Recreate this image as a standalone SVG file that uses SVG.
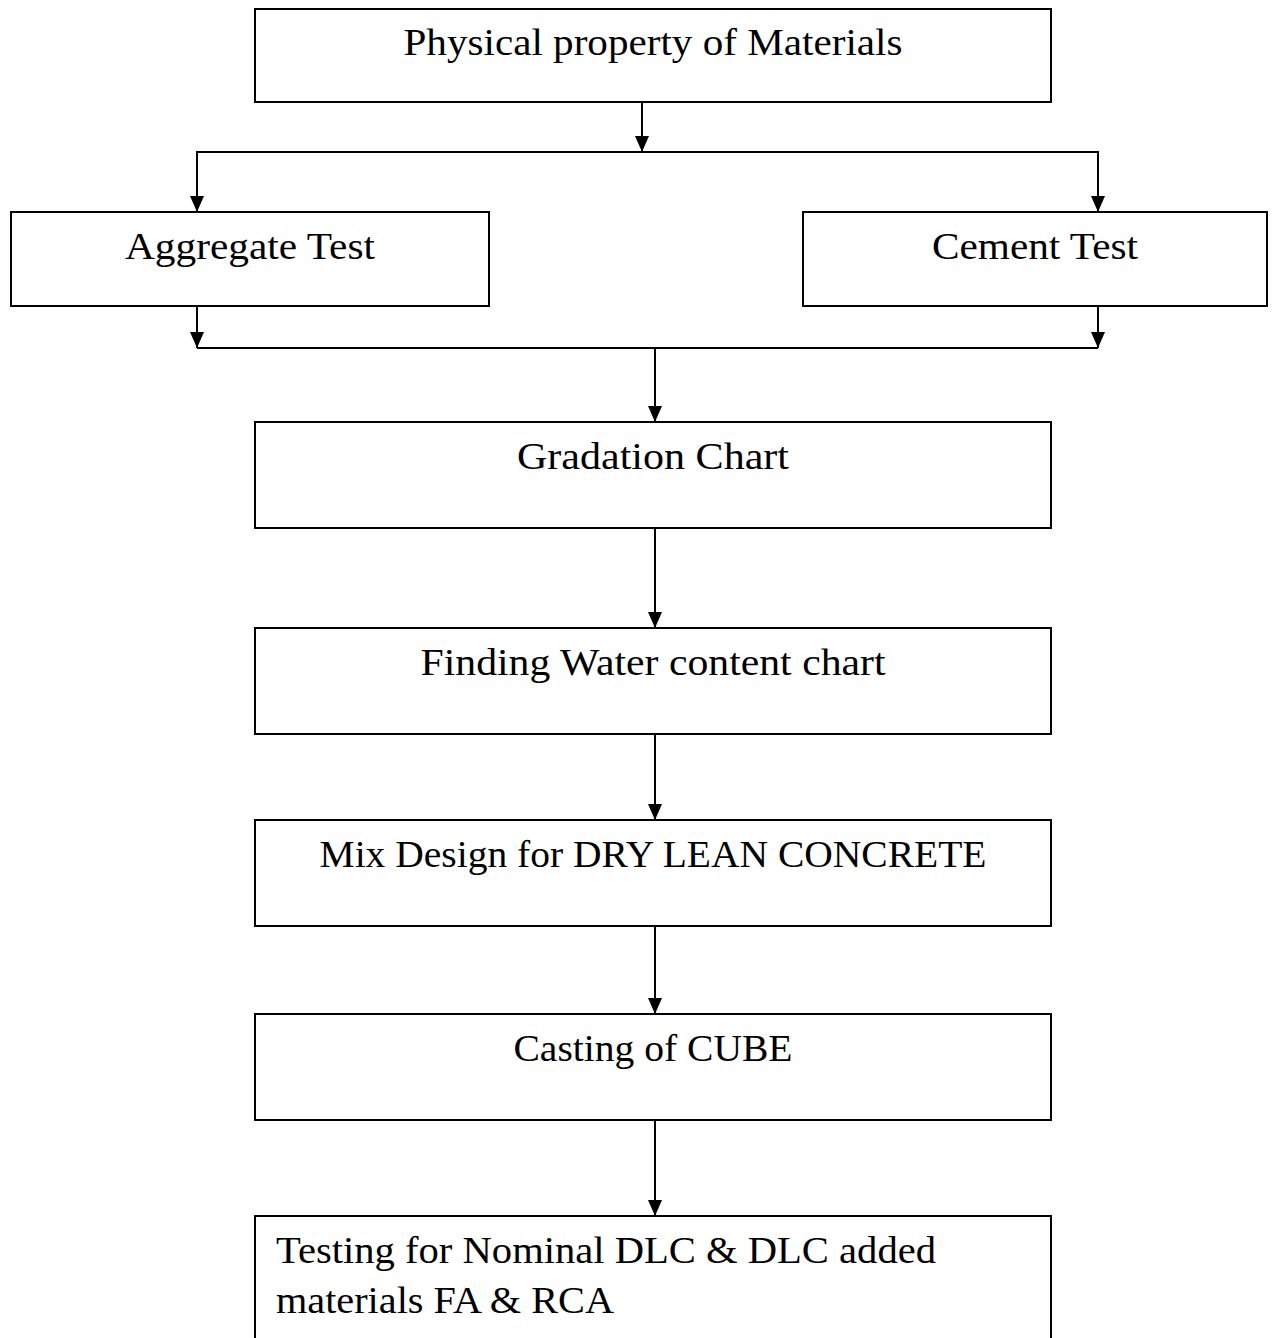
<svg xmlns="http://www.w3.org/2000/svg" width="1276" height="1338" viewBox="0 0 1276 1338">
<style>
.box{fill:#fff;stroke:#000;stroke-width:2}
.lbl{font-family:"Liberation Serif","Times New Roman",serif;font-size:38px;fill:#000}
.c{text-anchor:middle}
.ln{fill:none;stroke:#000;stroke-width:2}
</style>
<defs>
<marker id="ah" markerUnits="userSpaceOnUse" markerWidth="16" markerHeight="16" viewBox="0 0 16 16" refX="8" refY="16" orient="0">
<path d="M1,0 L15,0 L8,16 Z" fill="#000"/>
</marker>
</defs>
<rect width="1276" height="1338" fill="#fff"/>
<g id="connectors">
<path class="ln" d="M642,102 V152" marker-end="url(#ah)"/>
<path class="ln" d="M197,212 V152 H1098 V212" />
<path class="ln" d="M197,152 V212" marker-end="url(#ah)"/>
<path class="ln" d="M1098,152 V212" marker-end="url(#ah)"/>
<path class="ln" d="M197,306 V348" marker-end="url(#ah)"/>
<path class="ln" d="M1098,306 V348" marker-end="url(#ah)"/>
<path class="ln" d="M197,348 H1098"/>
<path class="ln" d="M655,348 V422" marker-end="url(#ah)"/>
<path class="ln" d="M655,528 V628" marker-end="url(#ah)"/>
<path class="ln" d="M655,734 V820" marker-end="url(#ah)"/>
<path class="ln" d="M655,926 V1014" marker-end="url(#ah)"/>
<path class="ln" d="M655,1120 V1216" marker-end="url(#ah)"/>
</g>
<g id="n1"><rect class="box" x="255" y="9" width="796" height="93"/><text class="lbl c" x="653" y="55" textLength="499" lengthAdjust="spacingAndGlyphs">Physical property of Materials</text></g>
<g id="n2"><rect class="box" x="11" y="212" width="478" height="94"/><text class="lbl c" x="250" y="259" textLength="250" lengthAdjust="spacingAndGlyphs">Aggregate Test</text></g>
<g id="n3"><rect class="box" x="803" y="212" width="464" height="94"/><text class="lbl c" x="1035" y="259" textLength="206" lengthAdjust="spacingAndGlyphs">Cement Test</text></g>
<g id="n4"><rect class="box" x="255" y="422" width="796" height="106"/><text class="lbl c" x="653" y="469" textLength="272" lengthAdjust="spacingAndGlyphs">Gradation Chart</text></g>
<g id="n5"><rect class="box" x="255" y="628" width="796" height="106"/><text class="lbl c" x="653" y="675" textLength="465" lengthAdjust="spacingAndGlyphs">Finding Water content chart</text></g>
<g id="n6"><rect class="box" x="255" y="820" width="796" height="106"/><text class="lbl c" x="653" y="867" textLength="667" lengthAdjust="spacingAndGlyphs">Mix Design for DRY LEAN CONCRETE</text></g>
<g id="n7"><rect class="box" x="255" y="1014" width="796" height="106"/><text class="lbl c" x="653" y="1061" textLength="279" lengthAdjust="spacingAndGlyphs">Casting of CUBE</text></g>
<g id="n8"><path class="ln" d="M255,1345 V1216 H1051 V1345"/><text class="lbl" x="276" y="1263" textLength="660" lengthAdjust="spacingAndGlyphs">Testing for Nominal DLC &amp; DLC added</text><text class="lbl" x="276" y="1313" textLength="338" lengthAdjust="spacingAndGlyphs">materials FA &amp; RCA</text></g>
</svg>
